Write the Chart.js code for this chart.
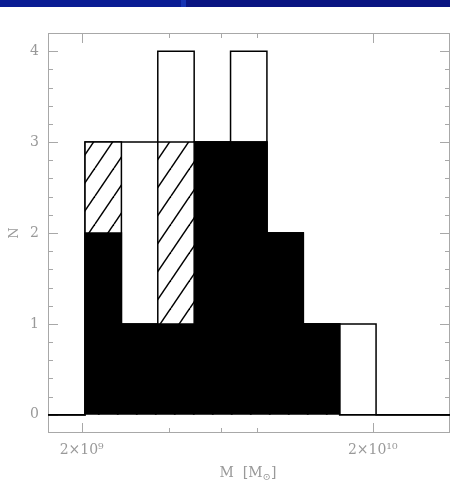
<!DOCTYPE html>
<html>
<head>
<meta charset="utf-8">
<script src="https://cdn.jsdelivr.net/npm/chart.js@4/dist/chart.umd.min.js"></script>
<style>
  html, body { margin: 0; padding: 0; background: #fff; }
  #wrap { position: relative; width: 450px; height: 480px; overflow: hidden; }
  #wrap canvas { position: absolute; left: 0; top: 0; }
  #band {
    position: absolute; left: 0; top: 0; width: 450px; height: 7px;
    background: linear-gradient(to right,
      #0a1c94 0, #0a1c94 181px, #1633b2 181px, #1633b2 186px, #0a1582 186px, #0a1582 100%);
  }
</style>
</head>
<body>
<div id="wrap">
  <canvas id="chart" width="450" height="480"></canvas>
  <div id="band"></div>
</div>
<script>
// Histogram bins in log10(M / M_sun), 0.125 dex wide
const binEdgesLog = [9.3125, 9.4375, 9.5625, 9.6875, 9.8125, 9.9375, 10.0625, 10.1875, 10.3125];
// Whole sample (open outline)
const countsAll = [3, 3, 4, 3, 4, 2, 1, 1];
// Filled plus hatched subsample (hatched part sits on top of the filled one)
const countsHatched = [3, 1, 3, 3, 3, 2, 1, 0];
// Filled subsample
const countsFilled = [2, 1, 1, 3, 3, 2, 1, 0];

// Axis extents and ticks
const xRange = [1.532e9, 3.686e10];
const yRange = [-0.2, 4.2];
const xMajorTicks = [2e9, 2e10];
const xTickLabels = ['2×10⁹', '2×10¹⁰'];
const xMinorTicks = [4e9, 6e9, 8e9];
const yTicks = [0, 1, 2, 3, 4];
const yTickLabels = ['0', '1', '2', '3', '4'];
const yMinorStep = 0.2;

const textColor = '#999999';
const frameColor = '#a8a8a8';
const serif = '"DejaVu Serif", "Liberation Serif", serif';

// Histogram outline as a step line: baseline, one point per left bin edge, then back to baseline
function stepPoints(counts) {
  const pts = [{ x: xRange[0], y: 0 }];
  counts.forEach((n, i) => pts.push({ x: Math.pow(10, binEdgesLog[i]), y: n }));
  pts.push({ x: Math.pow(10, binEdgesLog[binEdgesLog.length - 1]), y: 0 });
  pts.push({ x: xRange[1], y: 0 });
  return pts;
}

// Diagonal "/" hatching
function hatchPattern() {
  const w = 19, h = 28;
  const tile = document.createElement('canvas');
  tile.width = w; tile.height = h;
  const g = tile.getContext('2d');
  g.fillStyle = '#fff';
  g.fillRect(0, 0, w, h);
  g.strokeStyle = '#000';
  g.lineWidth = 1.5;
  for (const dx of [-w, 0, w]) {
    g.beginPath();
    g.moveTo(dx, h);
    g.lineTo(dx + w, 0);
    g.stroke();
  }
  return g.createPattern(tile, 'repeat');
}

// Frame with inward tick marks on all four sides (under the histogram), plus the axis titles
const framePlugin = {
  id: 'frame',
  beforeDatasetsDraw(chart) {
    const { ctx, chartArea: a, scales: { x, y } } = chart;
    ctx.save();
    ctx.strokeStyle = frameColor;
    ctx.lineWidth = 1;
    ctx.strokeRect(a.left + 0.5, a.top + 0.5, a.right - a.left - 1, a.bottom - a.top - 1);

    ctx.beginPath();
    const xTick = (v, len) => {
      const px = Math.round(x.getPixelForValue(v)) + 0.5;
      ctx.moveTo(px, a.top); ctx.lineTo(px, a.top + len);
      ctx.moveTo(px, a.bottom); ctx.lineTo(px, a.bottom - len);
    };
    const yTick = (v, len) => {
      const py = Math.round(y.getPixelForValue(v)) + 0.5;
      ctx.moveTo(a.left, py); ctx.lineTo(a.left + len, py);
      ctx.moveTo(a.right, py); ctx.lineTo(a.right - len, py);
    };
    xMajorTicks.forEach(v => xTick(v, 10));
    xMinorTicks.forEach(v => xTick(v, 5));
    yTicks.forEach(v => yTick(v, 10));
    for (let k = 1; yRange[0] + k * yMinorStep < yRange[1] - 1e-6; k++) {
      const v = +(yRange[0] + k * yMinorStep).toFixed(3);
      if (!yTicks.some(t => Math.abs(t - v) < 1e-6)) yTick(v, 5);
    }
    ctx.stroke();
    ctx.restore();
  },
  afterDraw(chart) {
    const { ctx, chartArea: a } = chart;
    ctx.save();
    ctx.fillStyle = textColor;

    // y title
    ctx.font = '13px ' + serif;
    ctx.textAlign = 'center';
    ctx.textBaseline = 'middle';
    ctx.save();
    ctx.translate(15, (a.top + a.bottom) / 2);
    ctx.rotate(-Math.PI / 2);
    ctx.fillText('N', 0, 0);
    ctx.restore();

    // x title with subscript sun symbol
    const cx = (a.left + a.right) / 2 - 1, base = 477;
    const big = '14px ' + serif, small = '10px ' + serif;
    const p1 = 'M  [M', p2 = '⊙', p3 = ']';
    ctx.textBaseline = 'alphabetic';
    ctx.textAlign = 'left';
    ctx.font = big; const w1 = ctx.measureText(p1).width, w3 = ctx.measureText(p3).width;
    ctx.font = small; const w2 = ctx.measureText(p2).width;
    let tx = cx - (w1 + w2 + w3) / 2;
    ctx.font = big; ctx.fillText(p1, tx, base); tx += w1;
    ctx.font = small; ctx.fillText(p2, tx, base + 3); tx += w2;
    ctx.font = big; ctx.fillText(p3, tx, base);
    ctx.restore();
  }
};

const common = { stepped: true, fill: 'origin', pointRadius: 0, borderWidth: 1.5, borderColor: '#000' };

new Chart(document.getElementById('chart'), {
  type: 'line',
  data: {
    datasets: [
      { ...common, label: 'filled', data: stepPoints(countsFilled), backgroundColor: '#000' },
      { ...common, label: 'hatched', data: stepPoints(countsHatched), backgroundColor: hatchPattern() },
      { ...common, label: 'all', data: stepPoints(countsAll), backgroundColor: '#fff' }
    ]
  },
  options: {
    responsive: false,
    animation: false,
    events: [],
    layout: { padding: { top: 33, right: 0, bottom: 0, left: 0 } },
    plugins: { legend: { display: false }, tooltip: { enabled: false } },
    scales: {
      x: {
        type: 'logarithmic',
        min: xRange[0],
        max: xRange[1],
        grid: { display: false, drawTicks: false },
        border: { display: false },
        afterBuildTicks: s => { s.ticks = xMajorTicks.map(v => ({ value: v })); },
        afterFit: s => { s.height = 47; },
        ticks: {
          autoSkip: false, maxRotation: 0, padding: 9,
          color: textColor, font: { family: serif, size: 14 },
          callback: (v, i) => xTickLabels[i]
        }
      },
      y: {
        type: 'linear',
        min: yRange[0],
        max: yRange[1],
        grid: { display: false, drawTicks: false },
        border: { display: false },
        afterBuildTicks: s => { s.ticks = yTicks.map(v => ({ value: v })); },
        afterFit: s => { s.width = 48; },
        ticks: {
          autoSkip: false, padding: 9,
          color: textColor, font: { family: serif, size: 14 },
          callback: (v, i) => yTickLabels[i]
        }
      }
    }
  },
  plugins: [framePlugin]
});
</script>
</body>
</html>
